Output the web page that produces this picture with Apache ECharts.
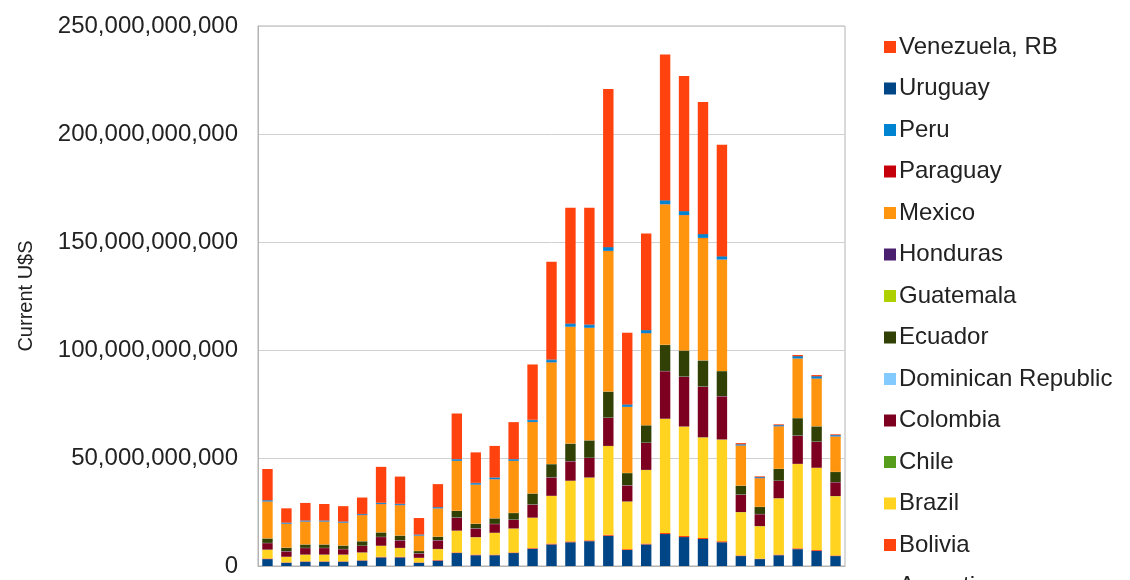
<!DOCTYPE html>
<html><head><meta charset="UTF-8">
<title>Latin America stacked</title>
<script src="https://cdn.jsdelivr.net/npm/echarts@6/dist/echarts.min.js"></script>
<style>
  *{margin:0;padding:0;}
  html,body{width:100%;height:100%;background:#fff;}
  #chart{width:1130px;height:580px;}
</style>
</head>
<body>
<div id="chart"></div>
<script>
// values in billions of current US$
var years = ['1980','1981','1982','1983','1984','1985','1986','1987','1988','1989','1990','1991','1992','1993','1994','1995',
             '1996','1997','1998','1999','2000','2001','2002','2003','2004','2005','2006','2007','2008','2009','2010'];
var argentina = [3.2,1.5,2,2,2,2.5,4,4,1.5,2.5,6,5,5,6,8,10,11,11.5,14,7.4,10,14.8,13.4,12.5,11,4.6,3.2,5,7.8,7,4.6];
var bolivia   = [0.3,0.2,0.2,0.2,0.2,0.2,0.3,0.3,0.2,0.3,0.3,0.3,0.3,0.3,0.3,0.4,0.4,0.4,0.5,0.4,0.4,0.5,0.5,0.5,0.5,0.3,0.2,0.3,0.4,0.4,0.3];
var brazil    = [4,2.5,3,3,3,3.5,5,4,2,5,10,8,10,11,14,22,28,29,41,22,34,52.8,50.6,46.5,47,20,15,26,39,38,27.4];
var chile     = [0.1,0.1,0.1,0.1,0.1,0.1,0.1,0.1,0.1,0.1,0.1,0.1,0.1,0.1,0.1,0.1,0.1,0.1,0.1,0.1,0.1,0.1,0.1,0.1,0.1,0.1,0.1,0.1,0.1,0.1,0.1];
var colombia  = [3,2.5,3,3,2.5,3,4,3.5,2,4,6,4,4,4,6,8.5,9,9,13,7.4,12.5,22,23,23.4,20,8,5.5,8,13,12,6.4];
var dominican = [0.1,0.1,0.1,0.1,0.1,0.1,0.1,0.1,0.1,0.1,0.1,0.1,0.1,0.1,0.1,0.1,0.1,0.1,0.1,0.1,0.1,0.1,0.1,0.1,0.1,0.1,0.1,0.1,0.1,0.1,0.1];
var ecuador   = [2,1.5,1.5,1.5,1.5,2,2,2,1,1.5,3,2,2.5,3,5,6,8,8,12,5.6,8,12,12,12,11.5,4,3.2,5.4,8,7,4.6];
var guatemala = [0.05,0.05,0.05,0.05,0.05,0.05,0.05,0.05,0.05,0.05,0.05,0.05,0.05,0.05,0.05,0.05,0.05,0.05,0.05,0.05,0.05,0.05,0.05,0.05,0.05,0.05,0.05,0.05,0.05,0.05,0.05];
var honduras  = [0.05,0.05,0.05,0.05,0.05,0.05,0.05,0.05,0.05,0.05,0.05,0.05,0.05,0.05,0.05,0.05,0.05,0.05,0.05,0.05,0.05,0.05,0.05,0.05,0.05,0.05,0.05,0.05,0.05,0.05,0.05];
var mexico    = [17,11,10.5,10.5,10.5,12,13,14,7,13,23,18,18,24,33,47,54,52,65,30.5,42.5,65,62.6,56.6,51.5,18.5,13.2,19.6,27.5,22,16.3];
var paraguay  = [0.1,0.1,0.1,0.1,0.1,0.1,0.1,0.1,0.1,0.1,0.1,0.1,0.1,0.1,0.1,0.1,0.1,0.1,0.1,0.1,0.1,0.1,0.1,0.1,0.1,0.1,0.1,0.1,0.1,0.1,0.1];
var peru      = [0.4,0.3,0.3,0.3,0.3,0.3,0.4,0.4,0.3,0.4,0.6,0.6,0.6,0.6,0.8,1,1.2,1.2,1.5,0.8,1.2,1.5,1.5,1.5,1.2,0.4,0.3,0.4,0.8,0.8,0.5];
var uruguay   = [0.2,0.2,0.2,0.2,0.2,0.2,0.2,0.2,0.2,0.2,0.2,0.2,0.2,0.2,0.2,0.3,0.3,0.3,0.3,0.3,0.3,0.3,0.3,0.3,0.3,0.2,0.2,0.2,0.3,0.3,0.2];
var venezuela = [14.4,6.6,8.1,7.6,7.1,7.6,16.6,12.6,7.6,10.6,21.1,14.1,14.6,17.1,25.6,45.3,53.6,54.1,73.1,33.2,44.6,67.5,62.5,61.1,51.6,0.5,0.3,0.3,0.5,0.5,0.3];

var names  = ['Argentina','Bolivia','Brazil','Chile','Colombia','Dominican Republic','Ecuador','Guatemala','Honduras','Mexico','Paraguay','Peru','Uruguay','Venezuela, RB'];
var values = [argentina,bolivia,brazil,chile,colombia,dominican,ecuador,guatemala,honduras,mexico,paraguay,peru,uruguay,venezuela];
var colors = ['#004586','#ff420e','#ffd320','#579d1c','#7e0021','#83caff','#314004','#aecf00','#4b1f6f','#ff950e','#c5000b','#0084d1','#004586','#ff420e'];

var series = [];
for (var i = 0; i < names.length; i++) {
  series.push({
    name: names[i],
    type: 'bar',
    stack: 'all',
    barCategoryGap: '45%',
    itemStyle: {color: colors[i]},
    data: values[i].map(function(v){ return v * 1e9; })
  });
}

var chart = echarts.init(document.getElementById('chart'));
chart.setOption({
  animation: false,
  textStyle: {fontFamily: 'Liberation Sans, Arial, sans-serif'},
  grid: {left: 258, right: 285, top: 26, bottom: 14, show: true, borderColor: '#b3b3b3', borderWidth: 1},
  legend: {
    orient: 'vertical', left: 884, top: 35, height: 800, padding: 0,
    data: names.slice().reverse(),
    itemWidth: 12, itemHeight: 12, itemGap: 17.5,
    icon: 'rect',
    textStyle: {fontSize: 24, lineHeight: 24, color: '#222', padding: [0, 0, 0, -2]}
  },
  xAxis: {
    type: 'category', data: years,
    axisLabel: {show: false}, axisTick: {show: false},
    axisLine: {lineStyle: {color: '#b3b3b3'}}
  },
  yAxis: {
    type: 'value', min: 0, max: 250e9, interval: 50e9,
    name: 'Current U$S', nameLocation: 'middle', nameGap: 222,
    nameTextStyle: {fontSize: 20, color: '#222'},
    axisLabel: {fontSize: 24, color: '#222', margin: 20,
      formatter: function(v){ return v.toLocaleString('en-US'); }},
    axisLine: {show: true, lineStyle: {color: '#b3b3b3'}},
    splitLine: {lineStyle: {color: '#d0d0d0'}}
  },
  series: series
});
</script>
</body></html>
